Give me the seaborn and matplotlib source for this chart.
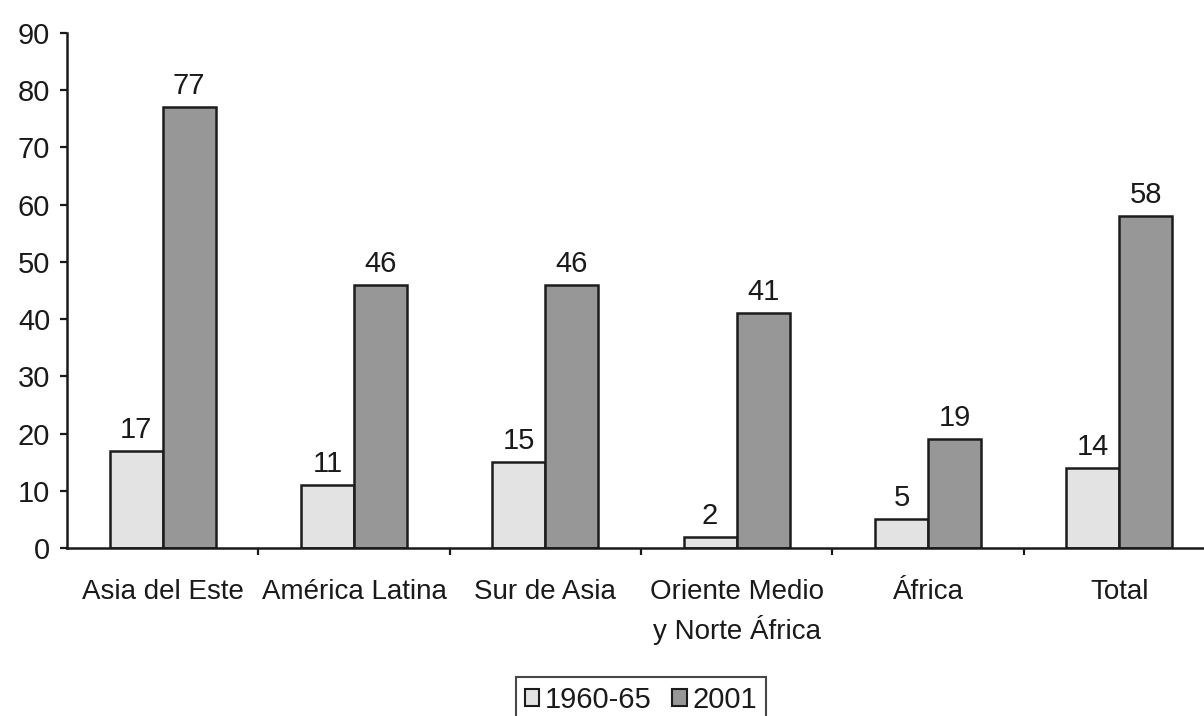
import matplotlib
matplotlib.use("Agg")
import matplotlib.pyplot as plt
from matplotlib import font_manager
from matplotlib.patches import Patch
import pandas as pd
import seaborn as sns

# Data
regions = ["Asia del Este", "América Latina", "Sur de Asia",
           "Oriente Medio\ny Norte África", "África", "Total"]
periods = ["1960-65", "2001"]
values_1960_65 = [17, 11, 15, 2, 5, 14]
values_2001 = [77, 46, 46, 41, 19, 58]
y_ticks = [0, 10, 20, 30, 40, 50, 60, 70, 80, 90]

colors = {"1960-65": "#e3e3e3", "2001": "#979797"}
edge = "#1c1c1c"

df = pd.DataFrame({
    "region": regions * 2,
    "period": [periods[0]] * len(regions) + [periods[1]] * len(regions),
    "value": values_1960_65 + values_2001,
})

sns.set_theme(style="white")
plt.rcParams["font.family"] = ["Liberation Sans", "DejaVu Sans"]
fs_cat = 20
fs_num = 21

fig = plt.figure(figsize=(12.04, 7.16), dpi=100)
ax = fig.add_axes([67 / 1204, 168 / 716, 1148 / 1204, 515 / 716])

sns.barplot(data=df, x="region", y="value", hue="period", order=regions,
            hue_order=periods, palette=colors, width=0.555, dodge=True,
            edgecolor=edge, linewidth=1.8, saturation=1, legend=False, ax=ax)

# value labels above each bar
for container in ax.containers:
    ax.bar_label(container, fmt="%d", padding=5, fontsize=fs_num, color="#1a1a1a")

ax.set_xlim(-0.5, len(regions) - 0.5)
ax.set_ylim(0, 90)
ax.set_yticks(y_ticks)
ax.set_xlabel("")
ax.set_ylabel("")

for side in ["top", "right"]:
    ax.spines[side].set_visible(False)
for side in ["left", "bottom"]:
    ax.spines[side].set_color("#1a1a1a")
    ax.spines[side].set_linewidth(1.8)

ax.tick_params(axis="y", which="major", direction="out", length=5, width=1.6,
               color="#1a1a1a", labelsize=fs_num, labelcolor="#1a1a1a", pad=7, left=True)
ax.tick_params(axis="x", which="major", length=0, labelsize=fs_cat,
               labelcolor="#1a1a1a", pad=22)
# boundary tick marks between categories
ax.set_xticks([i + 0.5 for i in range(len(regions) - 1)], minor=True)
ax.tick_params(axis="x", which="minor", direction="out", length=5, width=1.6,
               color="#1a1a1a", bottom=True)
for lbl in ax.get_xticklabels():
    lbl.set_linespacing(1.45)

handles = [Patch(facecolor=colors[p], edgecolor=edge, linewidth=1.5, label=p)
           for p in periods]
leg = ax.legend(handles=handles, loc="upper center", bbox_to_anchor=(0.5, -0.251),
                ncol=2, frameon=True, fancybox=False, fontsize=fs_num,
                handlelength=0.5, handleheight=0.5, handletextpad=0.2,
                columnspacing=0.7, borderpad=0.3, borderaxespad=0)
leg.get_frame().set_edgecolor("#1a1a1a")
leg.get_frame().set_linewidth(1.5)
for t in leg.get_texts():
    t.set_color("#1a1a1a")

fig.savefig("out.png", dpi=100)
